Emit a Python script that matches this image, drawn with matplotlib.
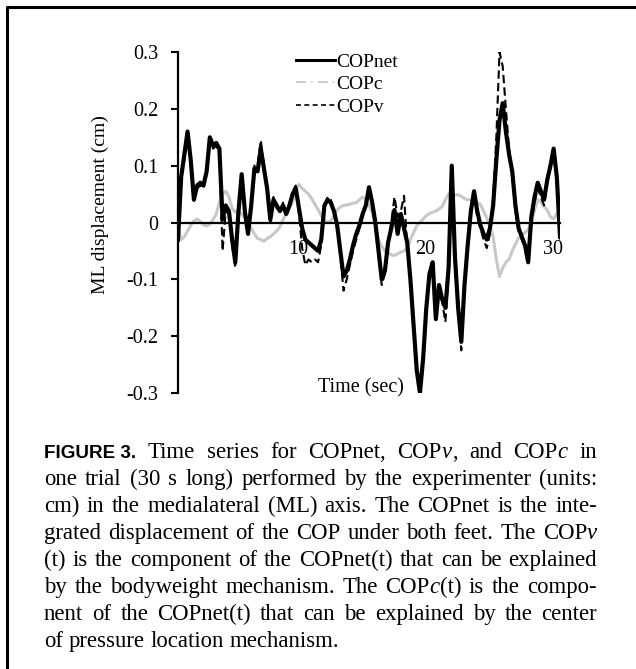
import numpy as np
import matplotlib.pyplot as plt
from matplotlib.lines import Line2D
from matplotlib.font_manager import FontProperties
from matplotlib.transforms import ScaledTranslation

plt.rcParams['font.family'] = ['Liberation Serif', 'DejaVu Serif']

# time in seconds, sampled every 0.25 s
time = np.arange(121) * 0.25

cop_net = [
    -0.03, 0.08, 0.12, 0.16, 0.11, 0.04, 0.065, 0.07, 0.065, 0.09,
    0.15, 0.135, 0.14, 0.13, 0.005, 0.03, 0.02, -0.03, -0.07, 0.02,
    0.085, 0.02, -0.02, 0.03, 0.095, 0.09, 0.13, 0.095, 0.06, 0.005,
    0.04, 0.03, 0.02, 0.03, 0.015, 0.03, 0.05, 0.06, 0.025, -0.01,
    -0.03, -0.035, -0.04, -0.045, -0.05, -0.03, 0.03, 0.04, 0.035, 0.02,
    -0.005, -0.05, -0.095, -0.085, -0.065, -0.04, -0.02, -0.005, 0.015, 0.03,
    0.062, 0.035, 0.0, -0.05, -0.1, -0.085, -0.035, -0.01, 0.022, -0.02,
    0.015, -0.01, -0.035, -0.1, -0.18, -0.26, -0.30, -0.24, -0.15, -0.09,
    -0.07, -0.17, -0.11, -0.135, -0.15, -0.08, 0.1, -0.06, -0.15, -0.21,
    -0.11, -0.04, 0.02, 0.055, 0.02, -0.005, -0.02, -0.03, -0.01, 0.03,
    0.11, 0.18, 0.21, 0.16, 0.12, 0.09, 0.03, -0.01, -0.025, -0.04,
    -0.07, 0.01, 0.045, 0.07, 0.055, 0.04, 0.075, 0.1, 0.13, 0.08,
    -0.025,
]

cop_v = [
    -0.03, 0.09, 0.11, 0.15, 0.11, 0.04, 0.06, 0.065, 0.06, 0.09,
    0.14, 0.13, 0.135, 0.12, -0.05, 0.02, 0.015, -0.04, -0.08, 0.01,
    0.08, 0.015, -0.025, 0.035, 0.1, 0.1, 0.145, 0.1, 0.06, 0.0,
    0.045, 0.025, 0.02, 0.035, 0.01, 0.03, 0.055, 0.065, 0.015, -0.045,
    -0.075, -0.065, -0.07, -0.065, -0.07, -0.04, 0.03, 0.045, 0.04, 0.02,
    -0.01, -0.06, -0.12, -0.1, -0.075, -0.05, -0.03, -0.01, 0.01, 0.03,
    0.06, 0.03, -0.01, -0.06, -0.11, -0.09, -0.04, 0.0, 0.045, 0.01,
    0.02, 0.047, -0.04, -0.11, -0.19, -0.26, -0.295, -0.23, -0.15, -0.09,
    -0.075, -0.17, -0.12, -0.14, -0.175, -0.09, 0.09, -0.07, -0.16, -0.225,
    -0.12, -0.045, 0.015, 0.05, 0.01, -0.01, -0.03, -0.045, -0.02, 0.04,
    0.15, 0.30, 0.275, 0.2, 0.13, 0.08, 0.02, -0.015, -0.03, -0.045,
    -0.07, 0.0, 0.035, 0.06, 0.045, 0.03, 0.07, 0.1, 0.13, 0.075,
    -0.03,
]

cop_c = [
    -0.01, -0.03, -0.025, -0.015, -0.005, 0.003, 0.006, 0.002, -0.004, -0.006,
    -0.003, 0.005, 0.015, 0.035, 0.05, 0.055, 0.045, 0.025, 0.018, 0.02,
    0.015, 0.008, 0.0, -0.01, -0.02, -0.028, -0.03, -0.033, -0.028, -0.025,
    -0.02, -0.015, -0.008, 0.005, 0.015, 0.025, 0.035, 0.06, 0.067, 0.06,
    0.055, 0.05, 0.042, 0.032, 0.023, 0.012, 0.004, 0.0, 0.003, 0.012,
    0.022, 0.027, 0.03, 0.031, 0.032, 0.034, 0.035, 0.04, 0.045, 0.04,
    0.03, 0.018, -0.005, -0.03, -0.042, -0.05, -0.053, -0.057, -0.058, -0.055,
    -0.052, -0.05, -0.045, -0.03, -0.018, -0.006, 0.0, 0.006, 0.012, 0.016,
    0.018, 0.02, 0.024, 0.028, 0.04, 0.05, 0.046, 0.048, 0.049, 0.046,
    0.042, 0.04, 0.04, 0.038, 0.035, 0.032, 0.02, 0.008, -0.007, -0.025,
    -0.065, -0.095, -0.08, -0.07, -0.065, -0.05, -0.038, -0.027, -0.022, -0.018,
    -0.012, -0.002, 0.022, 0.04, 0.036, 0.028, 0.022, 0.01, 0.006, 0.016,
    0.0,
]

y_ticks = [-0.3, -0.2, -0.1, 0, 0.1, 0.2, 0.3]
y_labels = ['-0.3', '-0.2', '-0.1', '0', '0.1', '0.2', '0.3']
x_ticks = [10, 20, 30]

W, H = 636, 669
fig = plt.figure(figsize=(W / 100, H / 100), dpi=100)
ax = fig.add_axes([178 / W, 1 - 393 / H, (560 - 178) / W, (393 - 52) / H])

ax.plot(time, cop_c, color='#c8c8c8', lw=2.2, zorder=2)
ax.plot(time, cop_v, color='black', lw=1.5, ls=(0, (4, 2)), zorder=3)
ax.plot(time, cop_net, color='black', lw=3.0, zorder=4)

ax.set_xlim(0, 30)
ax.set_ylim(-0.3, 0.3)
for s in ['top', 'right']:
    ax.spines[s].set_visible(False)
ax.spines['left'].set_linewidth(1.6)
ax.spines['bottom'].set_position(('data', 0))
ax.spines['bottom'].set_linewidth(1.6)
ax.spines['bottom'].set_zorder(5)

ax.set_yticks(y_ticks)
ax.set_yticklabels(y_labels)
ax.set_xticks(x_ticks)
ax.set_xticklabels([str(v) for v in x_ticks])
ax.tick_params(axis='y', direction='out', length=5, width=1.5, pad=9, labelsize=14.5)
ax.tick_params(axis='x', length=0, pad=12.5, labelsize=14.5)
for lab in ax.get_xticklabels():
    lab.set_transform(lab.get_transform() + ScaledTranslation(-0.07, 0, fig.dpi_scale_trans))

handles = [
    Line2D([], [], color='black', lw=2.2),
    Line2D([], [], color='#c4c4c4', lw=1.2, ls=(0, (6, 3, 1, 3))),
    Line2D([], [], color='black', lw=1.2, ls=(0, (3, 2))),
]
ax.legend(handles, ['COPnet', 'COPc', 'COPv'], loc='upper left',
          bbox_to_anchor=(296 / W, 1 - 53 / H), bbox_transform=fig.transFigure,
          frameon=False, handlelength=2.0, handletextpad=0.05,
          labelspacing=0.25, borderpad=0, borderaxespad=0, fontsize=14)

fig.text(361 / W, 1 - 388 / H, 'Time (sec)', ha='center', va='center', fontsize=14.5)
fig.text(100 / W, 1 - 205 / H, 'ML displacement (cm)', rotation=90,
         ha='center', va='center', fontsize=14)

# frame round the figure (left and top edges show)
fig.add_artist(Line2D([7 / W, 7 / W, 1], [0, 1 - 7 / H, 1 - 7 / H],
                      transform=fig.transFigure, color='black', lw=2.2))

# caption, justified
cap_size = 16.4
fp_r = FontProperties(family='Liberation Serif', size=cap_size)
fp_i = FontProperties(family='Liberation Serif', style='italic', size=cap_size)
fp_b = FontProperties(family='Liberation Sans', weight='bold', size=13.6)

# [..] bold sans, {..} italic, ~ keeps a space inside a word
caption = [
    "[FIGURE~3.] Time series for COPnet, COP{v}, and COP{c} in",
    "one trial (30 s long) performed by the experimenter (units:",
    "cm) in the medialateral (ML) axis. The COPnet is the inte-",
    "grated displacement of the COP under both feet. The COP{v}",
    "(t) is the component of the COPnet(t) that can be explained",
    "by the bodyweight mechanism. The COP{c}(t) is the compo-",
    "nent of the COPnet(t) that can be explained by the center",
    "of pressure location mechanism.",
]


def runs(word):
    out = []
    buf = ''
    mode = fp_r
    for ch in word:
        if ch in '[{':
            if buf:
                out.append((buf, mode))
            buf = ''
            mode = fp_b if ch == '[' else fp_i
        elif ch in ']}':
            if buf:
                out.append((buf, mode))
            buf = ''
            mode = fp_r
        else:
            buf += ' ' if ch == '~' else ch
    if buf:
        out.append((buf, mode))
    return out


renderer = fig.canvas.get_renderer()


def text_width(s, fp):
    t = fig.text(0, 0, s, fontproperties=fp)
    w = t.get_window_extent(renderer).width
    t.remove()
    return w


left, right = 44, 597
space_w = text_width('a a', fp_r) - text_width('aa', fp_r)
for i, line in enumerate(caption):
    base = 458 + 27 * i
    words = [runs(w) for w in line.split(' ')]
    widths = [[text_width(s, fp) for s, fp in w] for w in words]
    total = sum(sum(w) for w in widths)
    if i < len(caption) - 1:
        gap = (right - left - total) / (len(words) - 1)
    else:
        gap = space_w
    x = left
    for w, ws in zip(words, widths):
        for (s, fp), sw in zip(w, ws):
            fig.text(x / W, 1 - base / H, s, fontproperties=fp, va='baseline')
            x += sw
        x += gap

fig.savefig('out.png', dpi=100)
